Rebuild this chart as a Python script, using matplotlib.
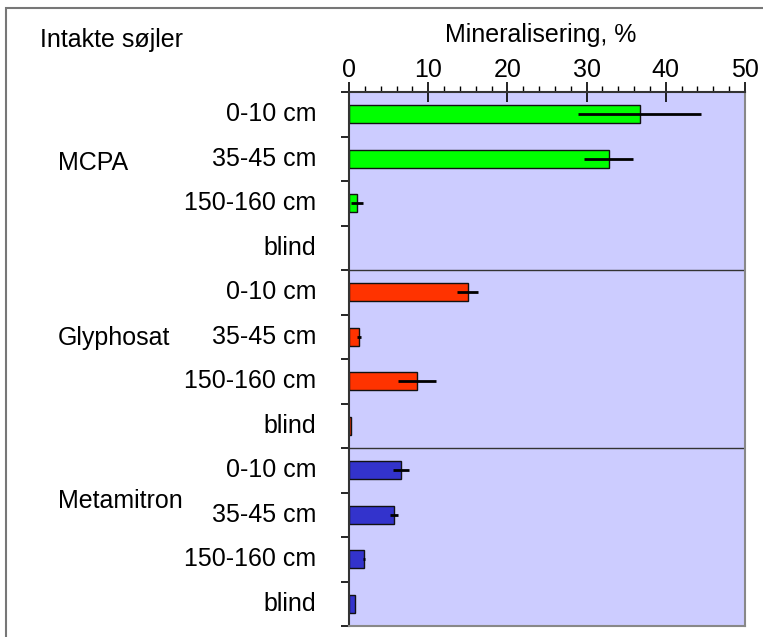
import matplotlib
matplotlib.use("Agg")
import matplotlib.pyplot as plt
from matplotlib.patches import Rectangle
from matplotlib.ticker import MultipleLocator

plt.rcParams['font.family'] = ['Liberation Sans', 'DejaVu Sans']

compounds = ["MCPA", "Glyphosat", "Metamitron"]
depths = ["0-10 cm", "35-45 cm", "150-160 cm", "blind"]
colors = ["#00FF00", "#FF3300", "#3333CC"]

mcpa_mean = [36.7, 32.8, 1.05, 0.0]
mcpa_err = [7.8, 3.1, 0.75, 0.0]
glyphosat_mean = [15.0, 1.25, 8.55, 0.3]
glyphosat_err = [1.35, 0.3, 2.4, 0.0]
metamitron_mean = [6.6, 5.65, 1.9, 0.7]
metamitron_err = [1.0, 0.5, 0.1, 0.0]

means = [mcpa_mean, glyphosat_mean, metamitron_mean]
errs = [mcpa_err, glyphosat_err, metamitron_err]

W, H = 763, 637
FS = 18
fig = plt.figure(figsize=(W / 100, H / 100), dpi=100)
ax = fig.add_axes([349 / W, 1 - 626 / H, (745 - 349) / W, (626 - 92) / H])
ax.set_facecolor("#CCCCFF")

n_dep = len(depths)
for g, (m, e, c) in enumerate(zip(means, errs, colors)):
    ys = [g * n_dep + i + 0.5 for i in range(n_dep)]
    for y, v in zip(ys, m):
        if v > 0:
            ax.barh(y, v, height=0.4, color=c, edgecolor="#111111",
                    linewidth=1.0, zorder=2)
    for y, v, er in zip(ys, m, e):
        if er > 0:
            ax.plot([v - er, v + er], [y, y], color="black", lw=2.0, zorder=3,
                    solid_capstyle="butt")
    for y, lab in zip(ys, depths):
        fig.text(316 / W, 1 - (92 + y * (534 / 12)) / H, lab, ha="right",
                 va="center", fontsize=FS)

# group separators
for b in range(1, len(compounds)):
    ax.axhline(b * n_dep, color="#333333", lw=1.0, zorder=1)

ax.set_xlim(0, 50)
ax.set_ylim(12, 0)

ax.xaxis.tick_top()
ax.xaxis.set_major_locator(MultipleLocator(10))
ax.xaxis.set_minor_locator(MultipleLocator(2))
ax.tick_params(axis="x", which="major", direction="inout", length=14, width=1.2,
               labelsize=FS, pad=0.5, bottom=False, labelbottom=False)
ax.tick_params(axis="x", which="minor", direction="out", length=4, width=1.0,
               bottom=False)
ax.set_yticks(range(0, 13))
ax.set_yticklabels([])
ax.tick_params(axis="y", which="major", direction="out", length=6, width=1.2)

for side in ["left", "top"]:
    ax.spines[side].set_color("#333333")
    ax.spines[side].set_linewidth(1.5)
for side in ["right", "bottom"]:
    ax.spines[side].set_color("#888888")
    ax.spines[side].set_linewidth(1.5)

# group names
group_y = [163, 338, 501]
for name, gy in zip(compounds, group_y):
    fig.text(58 / W, 1 - gy / H, name, ha="left", va="center", fontsize=FS)

fig.text(40 / W, 1 - 40 / H, "Intakte søjler", ha="left", va="center", fontsize=FS)
fig.text(541 / W, 1 - 35 / H, "Mineralisering, %", ha="center", va="center",
         fontsize=FS)

# outer frame
fig.patches.append(Rectangle((6 / W, -0.1), 1.2, 1.1 - 8 / H,
                             transform=fig.transFigure, fill=False,
                             edgecolor="#777777", linewidth=1.5))

fig.savefig("out.png", dpi=100)
